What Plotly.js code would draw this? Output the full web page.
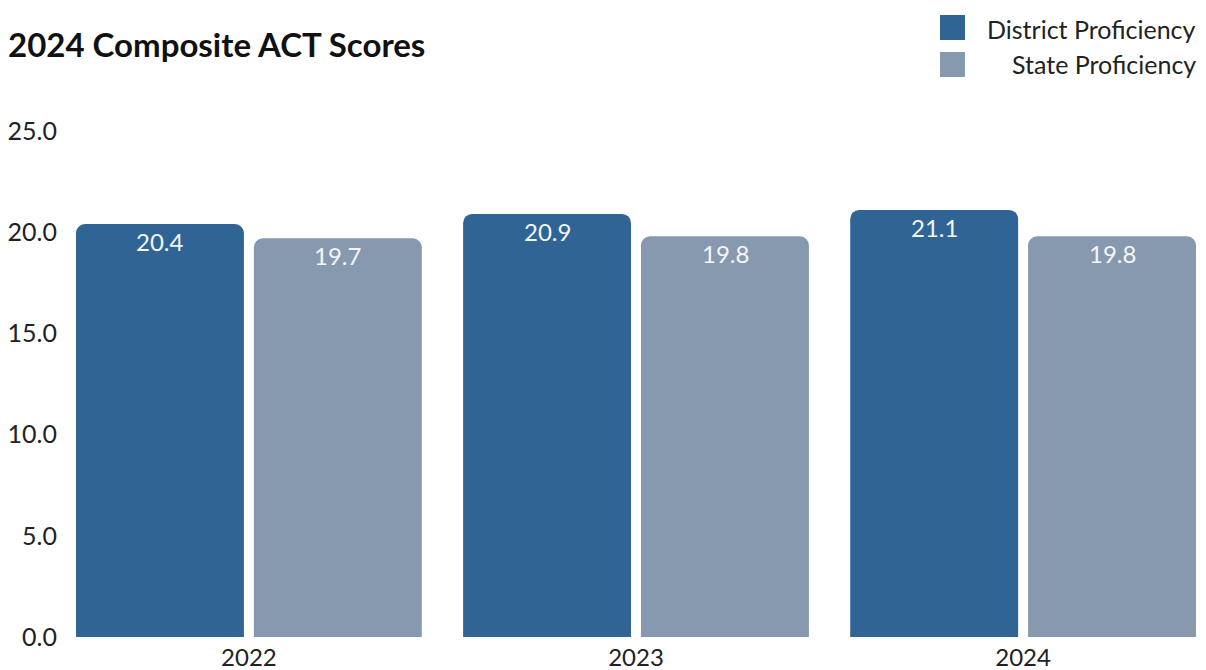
<!DOCTYPE html>
<html>
<head>
<meta charset="utf-8">
<script src="https://cdn.plot.ly/plotly-3.0.1.min.js"></script>
<style>html,body{margin:0;padding:0;background:#fff;}#chart{width:1206px;height:670px;}</style>
</head>
<body>
<div id="chart"></div>
<script>
var years = ["2022", "2023", "2024"];
var districtName = "District Proficiency";
var stateName = "State Proficiency";
var districtValues = [20.4, 20.9, 21.1];
var stateValues = [19.7, 19.8, 19.8];
var yTicks = [0, 5, 10, 15, 20, 25];
var yTickLabels = ["0.0", "5.0", "10.0", "15.0", "20.0", "25.0"];

var districtColor = "#2f6494";
var stateColor = "#8799ae";
var font = "Lato, 'Open Sans', sans-serif";

function fmt(v){ return v.toFixed(1); }

var traces = [
  {
    type: "bar", name: districtName, x: years, y: districtValues,
    marker: {color: districtColor, cornerradius: 9},
    hoverinfo: "x+y+name"
  },
  {
    type: "bar", name: stateName, x: years, y: stateValues,
    marker: {color: stateColor, cornerradius: 9},
    hoverinfo: "x+y+name"
  }
];

var W = 1206, H = 670, ML = 60, MR = 6, MT = 131, MB = 33;
var plotW = W - ML - MR, plotH = H - MT - MB;
function px2paperX(p){ return (p - ML) / plotW; }
function px2paperY(p){ return (H - MB - p) / plotH; }

var annotations = [
  {text: districtName, xref: "paper", yref: "paper", x: px2paperX(1198), y: px2paperY(29),
   xanchor: "right", yanchor: "middle", showarrow: false,
   font: {family: font, size: 25, color: "#222222"}},
  {text: stateName, xref: "paper", yref: "paper", x: px2paperX(1198), y: px2paperY(64),
   xanchor: "right", yanchor: "middle", showarrow: false,
   font: {family: font, size: 25, color: "#222222"}}
];

// value labels inside the top of each bar (x given as category index)
var slotOffset = 89;
years.forEach(function(yr, i){
  annotations.push({text: fmt(districtValues[i]), x: i, y: districtValues[i], xref: "x", yref: "y",
    xshift: -slotOffset, yshift: -1, yanchor: "top", xanchor: "center", showarrow: false,
    font: {family: font, size: 24, color: "#f4f6fa"}});
  annotations.push({text: fmt(stateValues[i]), x: i, y: stateValues[i], xref: "x", yref: "y",
    xshift: slotOffset, yshift: -1, yanchor: "top", xanchor: "center", showarrow: false,
    font: {family: font, size: 24, color: "#f4f6fa"}});
});

var layout = {
  width: W, height: H,
  margin: {l: ML, r: MR, t: MT, b: MB},
  paper_bgcolor: "#ffffff", plot_bgcolor: "#ffffff",
  font: {family: font, color: "#222222"},
  showlegend: false,
  barmode: "group",
  bargap: 0.081,
  bargroupgap: 0.056,
  title: {
    text: "<b>2024 Composite ACT Scores</b>",
    x: 8 / W, xanchor: "left", y: 1 - 45 / H, yanchor: "middle",
    font: {family: font, size: 33, color: "#111111"}
  },
  xaxis: {
    type: "category",
    range: [-0.488, 2.457],
    showgrid: false, zeroline: false, showline: false, ticks: "",
    ticklabelstandoff: 4,
    tickfont: {family: font, size: 24, color: "#222222"}
  },
  yaxis: {
    range: [0, 25],
    tickvals: yTicks, ticktext: yTickLabels,
    showgrid: false, zeroline: false, showline: false, ticks: "",
    ticklabelstandoff: 2,
    tickfont: {family: font, size: 25, color: "#222222"}
  },
  shapes: [
    {type: "rect", xref: "paper", yref: "paper",
     x0: px2paperX(940), x1: px2paperX(965), y0: px2paperY(40), y1: px2paperY(15),
     fillcolor: districtColor, line: {width: 0}},
    {type: "rect", xref: "paper", yref: "paper",
     x0: px2paperX(940), x1: px2paperX(965), y0: px2paperY(77), y1: px2paperY(52),
     fillcolor: stateColor, line: {width: 0}}
  ],
  annotations: annotations
};

Plotly.newPlot("chart", traces, layout, {displayModeBar: false, staticPlot: true});
</script>
</body>
</html>
